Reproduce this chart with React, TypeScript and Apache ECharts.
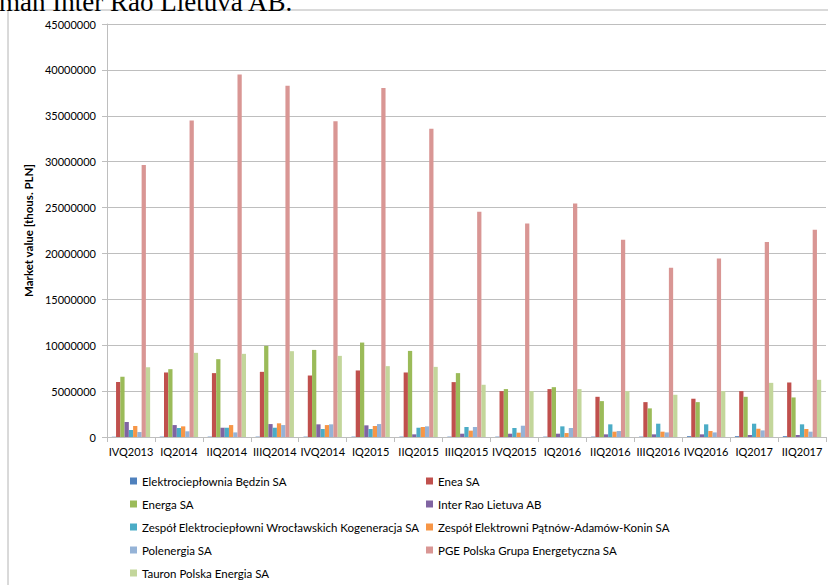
import React, { useEffect, useRef } from "react";
import * as echarts from "echarts";

const categories = ["IVQ2013", "IQ2014", "IIQ2014", "IIIQ2014", "IVQ2014", "IQ2015", "IIQ2015", "IIIQ2015", "IVQ2015", "IQ2016", "IIQ2016", "IIIQ2016", "IVQ2016", "IQ2017", "IIQ2017"];

const seriesNames = [
  "Elektrociepłownia Będzin SA",
  "Enea SA",
  "Energa SA",
  "Inter Rao Lietuva AB",
  "Zespół Elektrociepłowni Wrocławskich Kogeneracja SA",
  "Zespół Elektrowni Pątnów-Adamów-Konin SA",
  "Polenergia SA",
  "PGE Polska Grupa Energetyczna SA",
  "Tauron Polska Energia SA",
];

const bedzin = [40000, 40000, 40000, 40000, 40000, 40000, 40000, 40000, 40000, 40000, 40000, 40000, 90000, 90000, 90000];
const enea = [6000000, 7030000, 6960000, 7100000, 6700000, 7250000, 7030000, 5980000, 5000000, 5220000, 4380000, 3800000, 4170000, 5000000, 5940000];
const energa = [6560000, 7390000, 8480000, 9930000, 9490000, 10290000, 9380000, 6960000, 5220000, 5430000, 3910000, 3120000, 3800000, 4380000, 4310000];
const interRao = [1630000, 1300000, 1010000, 1410000, 1380000, 1270000, 290000, 360000, 360000, 360000, 290000, 290000, 290000, 220000, 220000];
const wroclaw = [760000, 980000, 1010000, 1010000, 870000, 870000, 1010000, 1090000, 980000, 1160000, 1380000, 1450000, 1380000, 1450000, 1380000];
const zepak = [1200000, 1160000, 1300000, 1490000, 1300000, 1200000, 1090000, 690000, 470000, 430000, 580000, 580000, 650000, 900000, 870000];
const polenergia = [540000, 620000, 500000, 1300000, 1380000, 1410000, 1160000, 1090000, 1230000, 980000, 650000, 500000, 500000, 720000, 580000];
const pge = [29650000, 34480000, 39500000, 38270000, 34400000, 38030000, 33580000, 24530000, 23250000, 25450000, 21500000, 18450000, 19450000, 21250000, 22580000];
const tauron = [7600000, 9170000, 9060000, 9350000, 8840000, 7720000, 7640000, 5690000, 5000000, 5220000, 5000000, 4600000, 5000000, 5900000, 6230000];

const seriesData = [bedzin, enea, energa, interRao, wroclaw, zepak, polenergia, pge, tauron];
const colors = ["#4F81BD", "#C0504D", "#9BBB59", "#8064A2", "#4BACC6", "#F79646", "#95B3D7", "#D99694", "#C3D69B"];

const yAxisName = "Market value [thous. PLN]";
const topText = "man Inter Rao Lietuva AB.";

export default function App() {
  const ref = useRef<HTMLDivElement>(null);
  useEffect(() => {
    if (!ref.current) return;
    const chart = echarts.init(ref.current, null, { renderer: "svg" });
    const font = "Lato, 'Open Sans', sans-serif";
    const legendText = { fontFamily: font, fontSize: 11.5, color: "#000", lineHeight: 14 };
    chart.setOption({
      animation: false,
      color: colors,
      textStyle: { fontFamily: font },
      graphic: [
        {
          type: "rect",
          shape: { x: 8, y: 10, width: 900, height: 700 },
          style: { fill: "none", stroke: "#b4b4b4", lineWidth: 1 },
          silent: true,
        },
        {
          type: "text",
          x: -1,
          y: 15,
          style: {
            text: topText,
            fontFamily: "'Liberation Serif', 'Times New Roman', serif",
            fontSize: 27,
            fill: "#000",
            textVerticalAlign: "bottom",
          },
        },
      ],
      grid: { left: 107, right: 2, top: 24, bottom: 148, containLabel: false },
      legend: [
        {
          orient: "vertical",
          left: 125,
          top: 469,
          height: 160,
          itemWidth: 7,
          itemHeight: 7,
          itemGap: 9,
          icon: "rect",
          textStyle: legendText,
          data: [seriesNames[0], seriesNames[2], seriesNames[4], seriesNames[6], seriesNames[8]],
        },
        {
          orient: "vertical",
          left: 421,
          top: 469,
          height: 160,
          itemWidth: 7,
          itemHeight: 7,
          itemGap: 9,
          icon: "rect",
          textStyle: legendText,
          data: [seriesNames[1], seriesNames[3], seriesNames[5], seriesNames[7]],
        },
      ],
      xAxis: {
        type: "category",
        data: categories,
        axisLine: { show: true, lineStyle: { color: "#bebebe", width: 1 } },
        axisTick: { show: true, alignWithLabel: false, length: 5, lineStyle: { color: "#bebebe" } },
        axisLabel: { fontFamily: font, fontSize: 11, color: "#000", margin: 9, interval: 0 },
      },
      yAxis: {
        type: "value",
        min: 0,
        max: 45000000,
        interval: 5000000,
        name: yAxisName,
        nameLocation: "middle",
        nameGap: 66,
        nameTextStyle: { fontFamily: font, fontSize: 11.5, fontWeight: "bold", color: "#000" },
        axisLine: { show: true, lineStyle: { color: "#bebebe", width: 1 } },
        axisTick: { show: true, length: 5, lineStyle: { color: "#bebebe" } },
        axisLabel: {
          fontFamily: font,
          fontSize: 11,
          color: "#000",
          margin: 11,
          formatter: (v: number) => String(v),
        },
        splitLine: { show: true, lineStyle: { color: "#bebebe", width: 1 } },
      },
      series: seriesData.map((d, i) => ({
        name: seriesNames[i],
        type: "bar",
        data: d,
        barGap: "0%",
        barCategoryGap: "20%",
        itemStyle: { color: colors[i] },
      })),
    });
    return () => chart.dispose();
  }, []);
  return (
    <div
      ref={ref}
      style={{ position: "fixed", left: 0, top: 0, width: 828, height: 585, background: "#fff" }}
    />
  );
}
